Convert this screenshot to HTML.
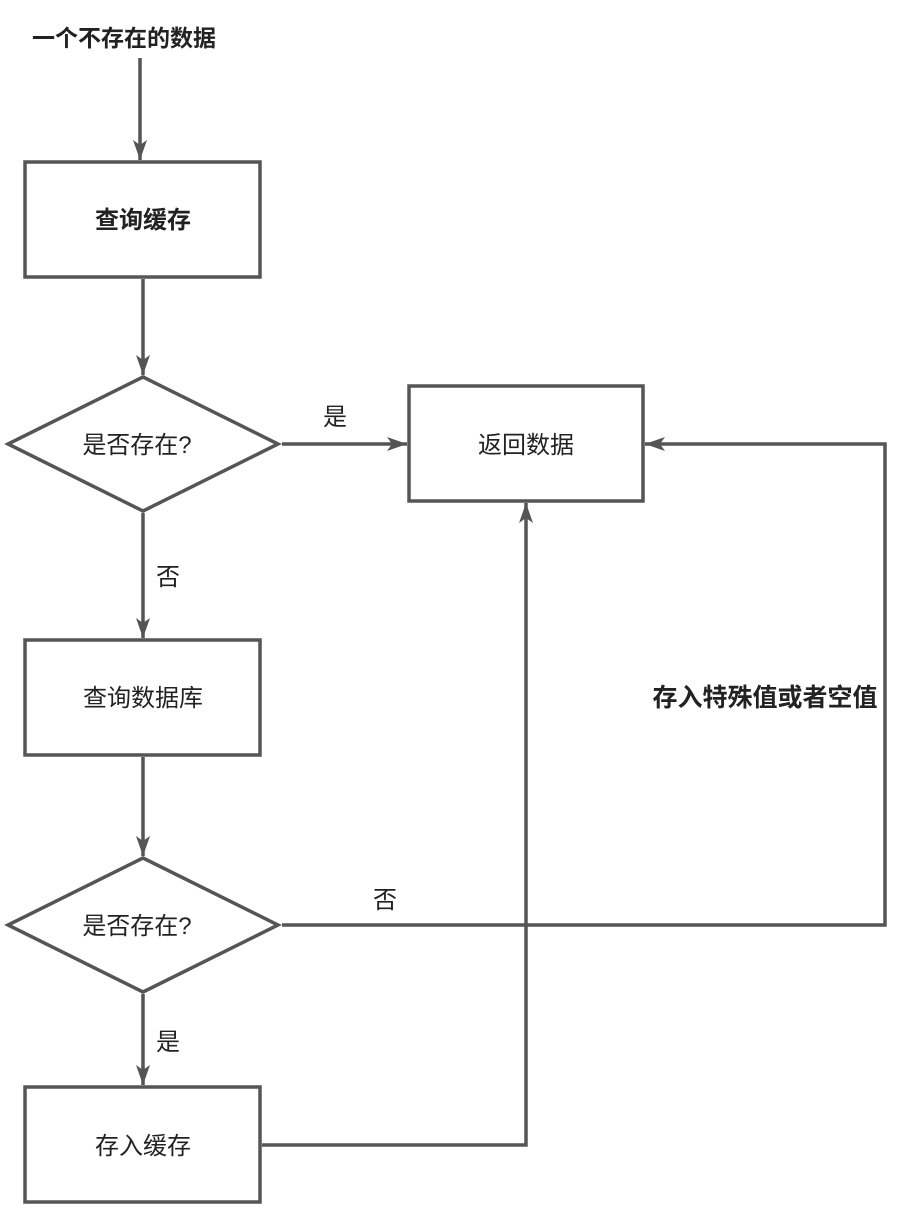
<!DOCTYPE html>
<html><head><meta charset="utf-8"><style>
body{margin:0;background:#fff}
svg text{font-family:"Liberation Sans","Noto Sans CJK SC",sans-serif;fill:#222}
</style></head><body>
<svg width="905" height="1209" viewBox="0 0 905 1209" xmlns="http://www.w3.org/2000/svg">
<defs><marker id="a" markerWidth="10" markerHeight="10" refX="9" refY="5" orient="auto" markerUnits="userSpaceOnUse"><path d="M0,0 L20,5 L0,10 Z" transform="scale(0.5,1)" fill="#555"/></marker>
<marker id="b" viewBox="0 0 20 14" refX="20" refY="7" markerWidth="20" markerHeight="14" orient="auto" markerUnits="userSpaceOnUse"><path d="M0,0 L20,7 L0,14 L5,7 Z" fill="#555"/></marker></defs>
<g stroke="#555" stroke-width="3.5" fill="none">
<rect x="25" y="162" width="235" height="115" fill="#fff"/>
<rect x="409" y="386" width="234" height="115" fill="#fff"/>
<rect x="25" y="640" width="235" height="115" fill="#fff"/>
<rect x="25" y="1087" width="235" height="115" fill="#fff"/>
<polygon points="143,377 278,444 143,511 8,444" fill="#fff"/>
<polygon points="143,858 278,925 143,992 8,925" fill="#fff"/>
<line x1="140" y1="58" x2="140" y2="160" marker-end="url(#b)"/>
<line x1="143" y1="279" x2="143" y2="375" marker-end="url(#b)"/>
<line x1="282" y1="444" x2="407" y2="444" marker-end="url(#b)"/>
<line x1="143" y1="513" x2="143" y2="638" marker-end="url(#b)"/>
<line x1="143" y1="757" x2="143" y2="856" marker-end="url(#b)"/>
<line x1="143" y1="994" x2="143" y2="1085" marker-end="url(#b)"/>
<polyline points="282,925 885,925 885,444 645,444" marker-end="url(#b)"/>
<polyline points="262,1145 526,1145 526,503" marker-end="url(#b)"/>
</g>
<text x="32" y="46" font-size="23" font-weight="bold" fill="#222">一个不存在的数据</text>
<text x="143" y="228" font-size="24" font-weight="bold" text-anchor="middle">查询缓存</text>
<text x="137" y="453" font-size="24" text-anchor="middle">是否存在?</text>
<text x="335" y="425" font-size="24" text-anchor="middle">是</text>
<text x="526" y="453" font-size="24" text-anchor="middle">返回数据</text>
<text x="168" y="585" font-size="24" text-anchor="middle">否</text>
<text x="143" y="706" font-size="24" text-anchor="middle">查询数据库</text>
<text x="765" y="706" font-size="25" font-weight="bold" text-anchor="middle">存入特殊值或者空值</text>
<text x="137" y="934" font-size="24" text-anchor="middle">是否存在?</text>
<text x="385" y="908" font-size="24" text-anchor="middle">否</text>
<text x="168" y="1050" font-size="24" text-anchor="middle">是</text>
<text x="143" y="1154" font-size="24" text-anchor="middle">存入缓存</text>
</svg>
</body></html>
